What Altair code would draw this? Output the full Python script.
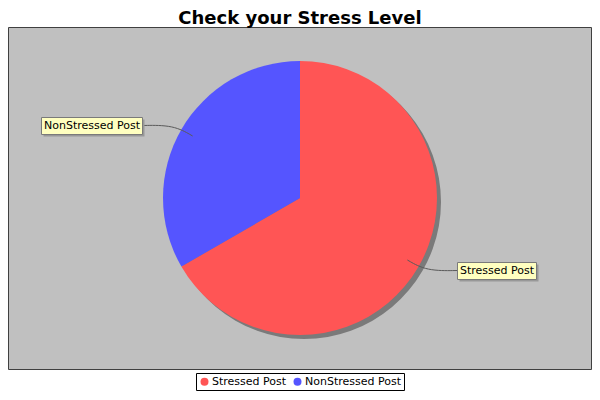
import altair as alt
import pandas as pd

# ---- data ----
categories = ["Stressed Post", "NonStressed Post"]
values = [2, 1]
colors = ["#FF5555", "#5555FF"]
title_text = "Check your Stress Level"

# ---- layout / style ----
W, H = 584, 384
CX, CY, R = 292, 190, 137
LINK_R0, LINK_R1 = 124, 146
LBL_R, LBL_X = 145, 157.5
FONT = "DejaVu Sans"
FS = 11

# approximate DejaVu Sans advance widths (em) to size the label boxes
_cw = {"N": .748, "o": .612, "n": .634, "S": .635, "t": .392, "r": .411,
       "e": .615, "s": .521, "d": .635, " ": .318, "P": .603}


def text_w(s):
    return sum(_cw.get(c, .6) for c in s) * FS


df = pd.DataFrame({
    "category": categories,
    "value": values,
    "idx": list(range(len(categories))),
    "bw": [round(text_w(c) + 4.5) for c in categories],
})

xs = alt.Scale(domain=[0, W], range=[0, W])
ys = alt.Scale(domain=[0, H], range=[0, H])

one = alt.Data(values=[{"a": 0}])

bg = alt.Chart(one).mark_rect(fill="#C0C0C0", stroke="#404040", strokeWidth=1).encode(
    x=alt.value(0.5), x2=alt.value(W - 0.5), y=alt.value(19.5), y2=alt.value(361.5)
)

shadow = alt.Chart(df).mark_arc(radius=R, color="#7A7A7A").encode(
    theta=alt.Theta("value:Q", stack=True),
    order=alt.Order("idx:O"),
    x=alt.value(CX + 4), y=alt.value(CY + 4),
)

pie = alt.Chart(df).mark_arc(radius=R).encode(
    theta=alt.Theta("value:Q", stack=True),
    order=alt.Order("idx:O"),
    color=alt.Color(
        "category:N",
        scale=alt.Scale(domain=categories, range=colors),
        legend=alt.Legend(
            title=None, orient="none", legendX=188, legendY=365,
            direction="horizontal", symbolType="circle", symbolSize=64,
            symbolStrokeWidth=0, symbolOpacity=1,
            labelFont=FONT, labelFontSize=FS, labelColor="black",
            strokeColor="black", fillColor="white", padding=3,
            columnPadding=5, labelOffset=2,
        ),
    ),
    x=alt.value(CX), y=alt.value(CY),
)

lab = (
    alt.Chart(df)
    .transform_joinaggregate(total="sum(value)")
    .transform_window(cum="sum(value)", sort=[alt.SortField("idx", order="ascending")], frame=[None, 0])
    .transform_calculate(mid="(datum.cum - datum.value / 2) / datum.total * 2 * PI")
    .transform_calculate(side="sin(datum.mid) >= 0 ? 1 : -1")
    .transform_calculate(ly=f"{CY} - {LBL_R} * cos(datum.mid)")
    .transform_calculate(lx=f"{CX} + datum.side * {LBL_X}")
    .transform_calculate(bx1="datum.side > 0 ? datum.lx : datum.lx - datum.bw")
    .transform_calculate(bx2="datum.bx1 + datum.bw")
    .transform_calculate(by1="datum.ly - 8", by2="datum.ly + 9")
    .transform_calculate(tx="(datum.bx1 + datum.bx2) / 2", ty="datum.ly + 0.5")
    .transform_calculate(sx1="datum.bx1 + 2", sx2="datum.bx2 + 2", sy1="datum.by1 + 2", sy2="datum.by2 + 2")
)

links = (
    lab.transform_calculate(s0="0", s1="1", s2="2")
    .transform_fold(["s0", "s1", "s2"], as_=["key", "step"])
    .transform_calculate(step="toNumber(datum.step)")
    .transform_calculate(rr=f"datum.step == 0 ? {LINK_R0} : {LINK_R1}")
    .transform_calculate(
        px=f"datum.step == 2 ? datum.lx : {CX} + datum.rr * sin(datum.mid)",
        py=f"datum.step == 2 ? datum.ly : {CY} - datum.rr * cos(datum.mid)",
    )
    .mark_line(interpolate="basis", color="#5A5A5A", strokeWidth=1)
    .encode(
        x=alt.X("px:Q", scale=xs, axis=None),
        y=alt.Y("py:Q", scale=ys, axis=None),
        detail="category:N",
        order="step:Q",
    )
)

box_shadow = lab.mark_rect(fill="#989898").encode(
    x=alt.X("sx1:Q", scale=xs, axis=None), x2="sx2:Q",
    y=alt.Y("sy1:Q", scale=ys, axis=None), y2="sy2:Q",
)

boxes = lab.mark_rect(fill="#FFFFC0", stroke="#7A7A7A", strokeWidth=1).encode(
    x=alt.X("bx1:Q", scale=xs, axis=None), x2="bx2:Q",
    y=alt.Y("by1:Q", scale=ys, axis=None), y2="by2:Q",
)

texts = lab.mark_text(font=FONT, fontSize=FS, color="black", align="center", baseline="middle").encode(
    x=alt.X("tx:Q", scale=xs, axis=None),
    y=alt.Y("ty:Q", scale=ys, axis=None),
    text="category:N",
)

title = alt.Chart(one).mark_text(
    text=title_text, font=FONT, fontWeight="bold", fontSize=18,
    color="black", align="center", baseline="alphabetic",
).encode(x=alt.value(CX), y=alt.value(15.5))

chart = (
    alt.layer(bg, shadow, pie, links, box_shadow, boxes, texts, title)
    .properties(width=W, height=H, autosize=alt.AutoSizeParams(type="none"), padding=0, background="white")
    .configure_view(strokeWidth=0)
)

chart.save("out.html", embed_options={"renderer": "svg", "actions": False})
